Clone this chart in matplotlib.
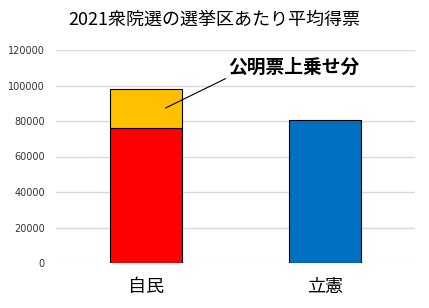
import matplotlib
matplotlib.use('Agg')
import matplotlib.pyplot as plt

plt.rcParams['font.family'] = ['Noto Sans CJK JP', 'DejaVu Sans']

# data
parties = ['自民', '立憲']
base_votes = [76300, 80300]
komei_add = [22000, 0]
colors = ['#ff0000', '#0070c0']
yticks = [0, 20000, 40000, 60000, 80000, 100000, 120000]

fig = plt.figure(figsize=(4.29, 3.08), dpi=100)
ax = fig.add_axes([56/429, 1 - 263/308, 359/429, 213/308])

x = range(len(parties))
ax.bar(x, base_votes, width=0.4, color=colors, edgecolor='black', linewidth=0.8, zorder=3)
ax.bar(0, komei_add[0], bottom=base_votes[0], width=0.4, color='#ffc000',
       edgecolor='black', linewidth=0.8, zorder=3)

ax.set_xlim(-0.5, 1.5)
ax.set_ylim(0, 120000)
ax.set_yticks(yticks)
ax.set_yticklabels([str(v) for v in yticks], fontsize=7, color='#333333', family='DejaVu Sans')
ax.set_xticks(list(x))
ax.set_xticklabels(parties, fontsize=13)
ax.tick_params(axis='both', length=0)
ax.tick_params(axis='x', pad=11)
ax.tick_params(axis='y', pad=8)
ax.grid(axis='y', color='#d9d9d9', linewidth=1, zorder=0)
for s in ax.spines.values():
    s.set_visible(False)

ax.annotate('公明票上乗せ分', xy=(0.11, base_votes[0] + komei_add[0] * 0.5),
            xytext=(0.46, 110000), fontsize=13.5, fontweight='bold',
            ha='left', va='center',
            arrowprops=dict(arrowstyle='-', color='black', linewidth=0.8,
                            shrinkA=0, shrinkB=0, relpos=(0, 0)))

fig.text(0.5, 1 - 20/308, '2021衆院選の選挙区あたり平均得票', ha='center', va='center', fontsize=13)

fig.savefig('out.png', dpi=100)
